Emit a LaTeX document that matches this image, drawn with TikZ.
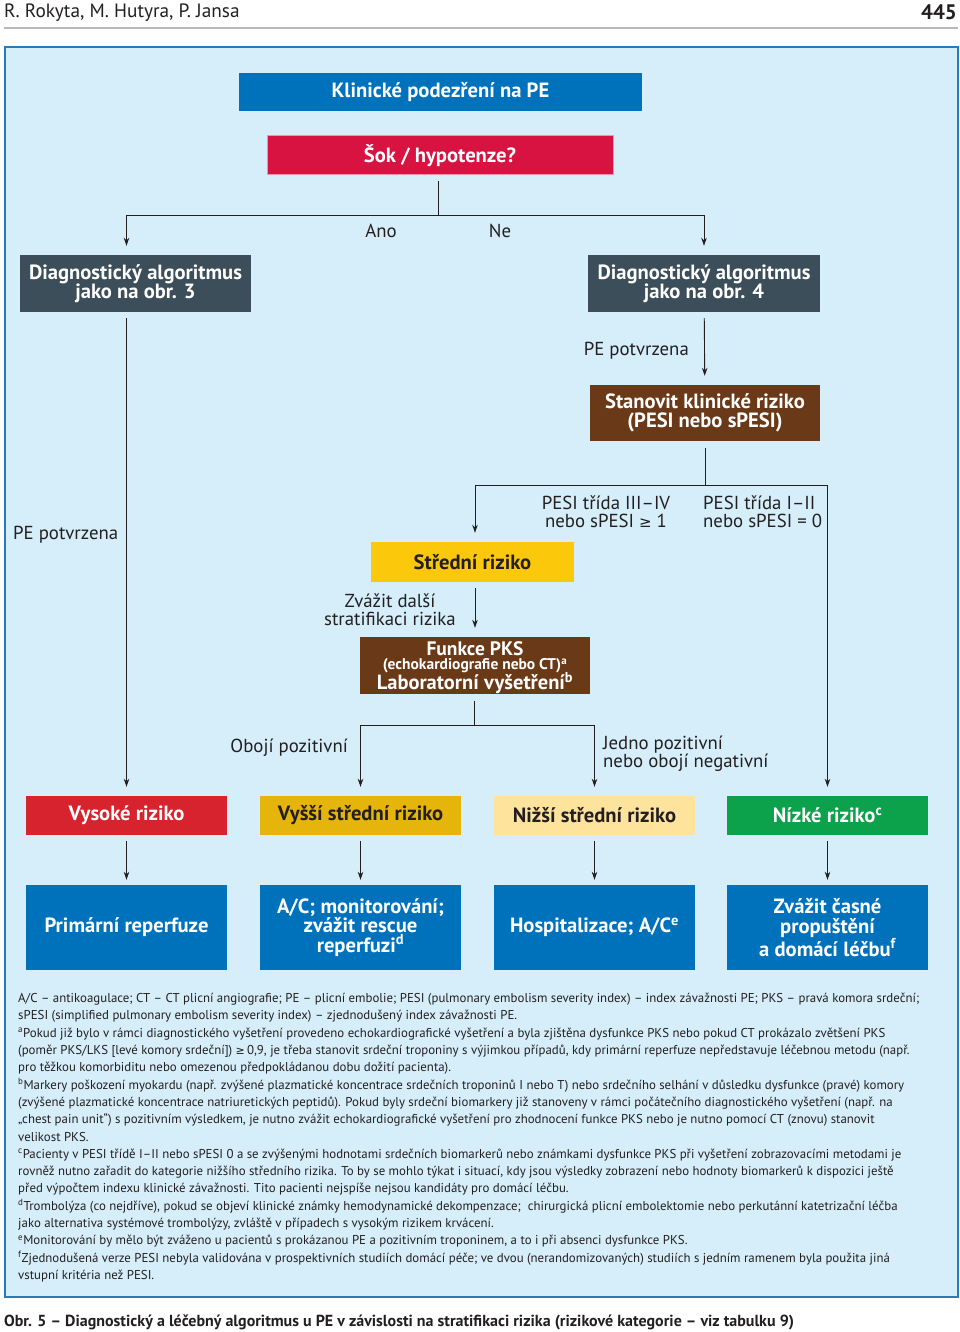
\documentclass[tikz,border=0pt]{standalone}
\usepackage{fontspec}
\setmainfont{PT Sans}
\newfontfamily\symf{DejaVu Sans}
\usetikzlibrary{arrows.meta}
\definecolor{panel}{HTML}{D5EEFA}
\definecolor{panelb}{HTML}{2A7AB5}
\definecolor{cblue}{HTML}{0072BC}
\definecolor{crim}{HTML}{D91341}
\definecolor{slate}{HTML}{3C4E5A}
\definecolor{brown}{HTML}{6A3A18}
\definecolor{yel}{HTML}{FCC80B}
\definecolor{gold}{HTML}{E5B50C}
\definecolor{lyel}{HTML}{FEE39C}
\definecolor{rred}{HTML}{D6232E}
\definecolor{grn}{HTML}{0BA24B}
\definecolor{ink}{HTML}{231F20}
\begin{document}
\begin{tikzpicture}[x=1pt,y=-1pt,
  bx/.style={inner sep=0pt, align=center, text=white,
    font=\fontsize{20.6}{19.5}\selectfont\bfseries},
  btx/.style={inner sep=0pt, text=white},
  lbl/.style={inner sep=0pt, text=ink, font=\fontsize{18.8}{18.2}\selectfont},
  ln/.style={draw=ink, line width=0.9pt},
  arr/.style={ln, -{Stealth[length=8pt,width=5.5pt]}, shorten >=9pt}
]
\useasboundingbox (0,0) rectangle (960,1332);
% header
\node[anchor=west, inner sep=0pt, text=ink, font=\fontsize{19.3}{20}\selectfont] (hd) at (4,12.5) {R. Rokyta, M. Hutyra, P. Jansa};
\node[anchor=east, inner sep=0pt, text=ink, font=\fontsize{21}{21}\selectfont\bfseries] (pg) at (957,12) {445};
\draw[gray!55, line width=2pt] (4,28) -- (958,28);
% panel
\draw[panelb, fill=panel, line width=2pt] (5,47) rectangle (958,1297);
% top boxes
\node[bx, fill=cblue, minimum width=403, minimum height=38] (kl) at (440.5,92) {Klinické podezření na PE};
\node[bx, fill=crim, draw=crim!45, line width=1pt, minimum width=346, minimum height=39] (sok) at (440,155.5) {Šok / hypotenze?};
\coordinate (j1) at (438,215);
\node[bx, fill=slate, minimum width=231, minimum height=57] (d3) at (135.5,283.5) {Diagnostický algoritmus\\jako na obr. 3};
\node[bx, fill=slate, minimum width=232, minimum height=57] (d4) at (704,283.5) {Diagnostický algoritmus\\jako na obr. 4};
\node[lbl] (ano) at (381,231) {Ano};
\node[lbl] (ne) at (500,231) {Ne};
\node[lbl, anchor=east] (pe1) at (689,351) {PE potvrzena};
\node[bx, fill=brown, minimum width=230, minimum height=56] (stan) at (705,413) {Stanovit klinické riziko\\(PESI nebo sPESI)};
\coordinate (j2) at (705,485);
\node[lbl, align=center] (pesi1) at (606,512) {PESI třída III–IV\\nebo sPESI {\symf\fontsize{15}{16}\selectfont ≥} 1};
\node[lbl, align=left, anchor=west] (pesi2) at (703,512) {PESI třída I–II\\nebo sPESI = 0};
\node[lbl, anchor=west] (pe2) at (13,535) {PE potvrzena};
\node[bx, fill=yel, text=ink, minimum width=203, minimum height=40] (str) at (472.5,562) {Střední riziko};
\node[lbl, align=center] (zv) at (390,609.5) {Zvážit další\\stratifikaci rizika};
\node[bx, fill=brown, minimum width=230, minimum height=57, font=\fontsize{15.5}{16}\selectfont\bfseries] (fun) at (475,665.5)
  {(echokardiografie nebo CT)\textsuperscript{a}};
\node[btx, font=\fontsize{19.5}{20}\selectfont\bfseries] (funa) at (475,648.5) {Funkce PKS};
\node[btx, font=\fontsize{20.5}{20}\selectfont\bfseries] (funb) at (475,683) {Laboratorní vyšetření\textsuperscript{b}};
\coordinate (j3) at (474,725);
\node[lbl, anchor=east] (ob) at (348,748) {Obojí pozitivní};
\node[lbl, align=left, anchor=west] (jed) at (603,754) {Jedno pozitivní\\nebo obojí negativní};
% risk row
\node[bx, fill=rred, minimum width=201, minimum height=39] (vys) at (126.5,815.5) {Vysoké riziko};
\node[bx, fill=gold, text=ink, minimum width=201, minimum height=39] (vst) at (360.5,815.5) {Vyšší střední riziko};
\node[bx, fill=lyel, text=ink, minimum width=201, minimum height=39] (nst) at (594.5,815.5) {Nižší střední riziko};
\node[bx, fill=grn, minimum width=201, minimum height=39] (niz) at (827.5,815.5) {Nízké riziko\textsuperscript{c}};
% treatment row
\node[bx, fill=cblue, minimum width=201, minimum height=85] (t1) at (126.5,927.5) {Primární reperfuze};
\node[bx, fill=cblue, minimum width=201, minimum height=85] (t2) at (360.5,927.5) {A/C; monitorování;\\zvážit rescue\\reperfuzi\textsuperscript{d}};
\node[bx, fill=cblue, minimum width=201, minimum height=85] (t3) at (594.5,927.5) {Hospitalizace; A/C\textsuperscript{e}};
\node[bx, fill=cblue, minimum width=201, minimum height=85] (t4) at (827.5,927.5) {Zvážit časné\\propuštění\\a domácí léčbu\textsuperscript{f}};
% connectors
\draw[ln, shorten <=6pt] (sok.south -| j1) -- (j1);
\draw[arr] (j1) -| (vys.north |- d3.north);
\draw[arr] (j1) -| (d4);
\draw[arr, shorten <=6pt] (vys.north |- d3.south) -- (vys);
\draw[arr, shorten <=6pt] (d4) -- (stan);
\draw[ln, shorten <=7pt] (stan) -- (j2);
\draw[arr] (j2) -| (str.north -| fun.north);
\draw[arr] (j2) -| (niz);
\draw[arr, shorten <=6pt] (str.south -| fun.north) -- (fun);
\draw[ln, shorten <=7pt] (fun.south -| j3) -- (j3);
\draw[arr] (j3) -| (vst);
\draw[arr] (j3) -| (nst);
\foreach \a/\b in {vys/t1, vst/t2, nst/t3, niz/t4}
  \draw[arr, shorten <=6pt, shorten >=5pt] (\a) -- (\b);
% footnotes
\node[anchor=north west, inner sep=0pt, align=left, text=ink, font=\fontsize{12.85}{17.3}\selectfont] (fn) at (18,993) {%
A/C – antikoagulace; CT – CT plicní angiografie; PE – plicní embolie; PESI (pulmonary embolism severity index) – index závažnosti PE; PKS – pravá komora srdeční;\\
sPESI (simplified pulmonary embolism severity index) – zjednodušený index závažnosti PE.\\
\textsuperscript{a}Pokud již bylo v rámci diagnostického vyšetření provedeno echokardiografické vyšetření a byla zjištěna dysfunkce PKS nebo pokud CT prokázalo zvětšení PKS\\
(poměr PKS/LKS [levé komory srdeční]) {\symf\fontsize{11}{12}\selectfont ≥}\,0,9, je třeba stanovit srdeční troponiny s výjimkou případů, kdy primární reperfuze nepředstavuje léčebnou metodu (např.\\
pro těžkou komorbiditu nebo omezenou předpokládanou dobu dožití pacienta).\\
\textsuperscript{b}Markery poškození myokardu (např. zvýšené plazmatické koncentrace srdečních troponinů I nebo T) nebo srdečního selhání v důsledku dysfunkce (pravé) komory\\
(zvýšené plazmatické koncentrace natriuretických peptidů). Pokud byly srdeční biomarkery již stanoveny v rámci počátečního diagnostického vyšetření (např. na\\
„chest pain unit“) s pozitivním výsledkem, je nutno zvážit echokardiografické vyšetření pro zhodnocení funkce PKS nebo je nutno pomocí CT (znovu) stanovit\\
velikost PKS.\\
\textsuperscript{c}Pacienty v PESI třídě I–II nebo sPESI 0 a se zvýšenými hodnotami srdečních biomarkerů nebo známkami dysfunkce PKS při vyšetření zobrazovacími metodami je\\
rovněž nutno zařadit do kategorie nižšího středního rizika. To by se mohlo týkat i situací, kdy jsou výsledky zobrazení nebo hodnoty biomarkerů k dispozici ještě\\
před výpočtem indexu klinické závažnosti. Tito pacienti nejspíše nejsou kandidáty pro domácí léčbu.\\
\textsuperscript{d}Trombolýza (co nejdříve), pokud se objeví klinické známky hemodynamické dekompenzace;\ \ chirurgická plicní embolektomie nebo perkutánní katetrizační léčba\\
jako alternativa systémové trombolýzy, zvláště v případech s vysokým rizikem krvácení.\\
\textsuperscript{e}Monitorování by mělo být zváženo u pacientů s prokázanou PE a pozitivním troponinem, a to i při absenci dysfunkce PKS.\\
\textsuperscript{f}Zjednodušená verze PESI nebyla validována v prospektivních studiích domácí péče; ve dvou (nerandomizovaných) studiích s jedním ramenem byla použita jiná\\
vstupní kritéria než PESI.};
% caption
\node[anchor=west, inner sep=0pt, text=ink, font=\fontsize{16}{17}\selectfont\bfseries] (cap) at (4,1322) {Obr. 5 – Diagnostický a léčebný algoritmus u PE v závislosti na stratifikaci rizika (rizikové kategorie – viz tabulku 9)};
\end{tikzpicture}
\end{document}
